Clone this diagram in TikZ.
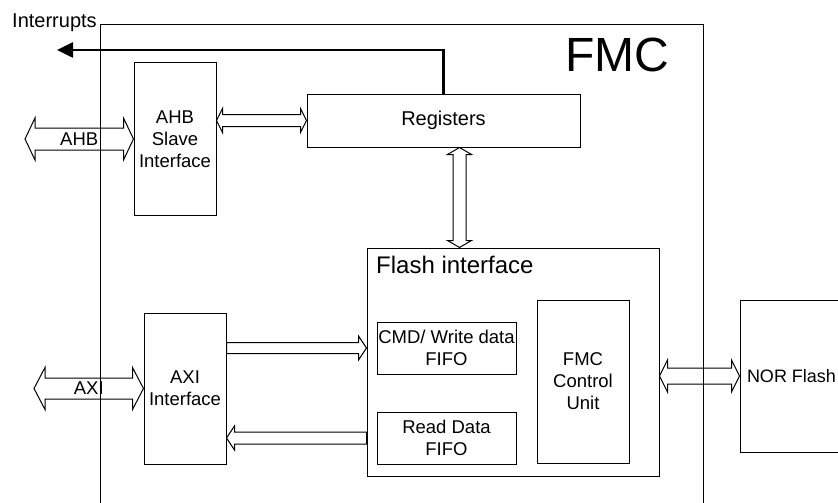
\documentclass[tikz,border=0pt]{standalone}
\usepackage{fontspec}
\setmainfont{Liberation Sans}
\usetikzlibrary{arrows.meta, positioning, calc}

% hollow bus arrows: start, end, shaft half width, head half width, head length
\newcommand{\busboth}[5]{%
  \coordinate (b1) at (#1); \coordinate (b2) at (#2);
  \coordinate (h1) at ($(b1)!#5!(b2)$); \coordinate (h2) at ($(b2)!#5!(b1)$);
  \draw[bus] (b1) -- ($(h1)!#4!90:(b2)$) -- ($(h1)!#3!90:(b2)$) -- ($(h2)!#3!-90:(b1)$)
    -- ($(h2)!#4!-90:(b1)$) -- (b2) -- ($(h2)!#4!90:(b1)$) -- ($(h2)!#3!90:(b1)$)
    -- ($(h1)!#3!-90:(b2)$) -- ($(h1)!#4!-90:(b2)$) -- cycle;}
\newcommand{\busone}[5]{%
  \coordinate (b1) at (#1); \coordinate (b2) at (#2);
  \coordinate (h2) at ($(b2)!#5!(b1)$);
  \draw[bus] ($(b1)!#3!90:(b2)$) -- ($(h2)!#3!-90:(b1)$) -- ($(h2)!#4!-90:(b1)$) -- (b2)
    -- ($(h2)!#4!90:(b1)$) -- ($(h2)!#3!90:(b1)$) -- ($(b1)!#3!-90:(b2)$) -- cycle;}

\begin{document}
\begin{tikzpicture}[
    x=1pt, y=-1pt,
    every node/.style={font=\fontsize{18.5}{22}\selectfont},
    box/.style={rectangle, draw, line width=1pt, align=center, inner sep=1pt},
    bus/.style={draw, line width=1pt, line join=miter},
    irq/.style={line width=2.6pt, -{Triangle[length=16pt, width=15pt]}}
]
\useasboundingbox (0,0) rectangle (838,503);
\clip (0,0) rectangle (838,503);

% FMC frame
\draw[line width=1pt] (100,503) |- (703,25) -- (703,503);
\node[font=\fontsize{48}{50}\selectfont, anchor=base west, inner sep=0pt] (fmclabel) at (565,72) {FMC};

% Blocks
\node[box, minimum width=82pt, minimum height=152pt] (slave) at (175,139) {AHB\\Slave\\Interface};
\node[box, minimum width=273pt, minimum height=53pt, font=\fontsize{20}{24}\selectfont] (reg) at (443.5,120.5) {Registers};
\node[box, minimum width=82pt, minimum height=151pt] (axi) at (185,388.5) {AXI\\Interface};
\node[box, minimum width=292pt, minimum height=228pt] (flash) at (513,362) {};
\node[font=\fontsize{24}{28}\selectfont, anchor=base west, inner sep=0pt] (flashlabel) at (376,273) {Flash interface};
\node[box, minimum width=139pt, minimum height=52pt, inner sep=0pt] (cmd) at (446.5,348) {CMD/ Write data\\FIFO};
\node[box, minimum width=139pt, minimum height=52pt, below=37pt of cmd] (rd) {Read Data\\FIFO};
\node[box, minimum width=92pt, minimum height=163pt] (ctrl) at (583,381.5) {FMC\\Control\\Unit};
\node[box, minimum width=103pt, minimum height=152pt, font=\fontsize{18}{22}\selectfont] (nor) at (791.5,376) {NOR Flash};

% Interrupts
\coordinate (irqend) at (57,50);
\draw[irq] (reg.north) |- (irqend);
\node[font=\fontsize{20}{24}\selectfont, anchor=base west, inner sep=0pt] (irqlabel) at (12,28) {Interrupts};

% Buses
\coordinate (ahbend) at (25,139);
\busboth{ahbend}{slave.west}{11pt}{21pt}{10pt}
\node (ahblabel) at ($(ahbend)!0.5!(slave.west)$) {AHB};
\busboth{slave.east |- reg.west}{reg.west}{6pt}{12pt}{6pt}
\coordinate (regbus) at ($(reg.south)+(16,0)$);
\busboth{regbus}{regbus |- flash.north}{6.5pt}{12pt}{7pt}
\coordinate (axiend) at (34,388.5);
\busboth{axiend}{axi.west}{10.5pt}{21pt}{11pt}
\node (axilabel) at ($(axiend)!0.5!(axi.west)$) {AXI};
\busone{axi.east |- cmd.west}{flash.west |- cmd.west}{5.5pt}{12pt}{8pt}
\busone{flash.west |- rd.west}{axi.east |- rd.west}{6pt}{12pt}{8pt}
\busboth{flash.east |- nor.west}{nor.west}{8pt}{16pt}{8pt}

\end{tikzpicture}
\end{document}
